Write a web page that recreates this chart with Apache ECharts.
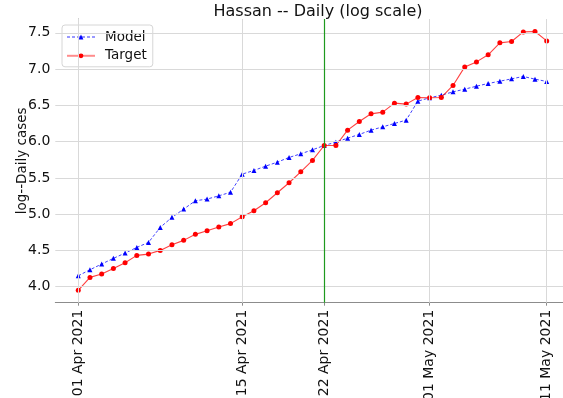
<!DOCTYPE html>
<html>
<head>
<meta charset="utf-8">
<script src="https://cdn.jsdelivr.net/npm/echarts@6/dist/echarts.min.js"></script>
<style>
  html, body { margin: 0; padding: 0; background: #fff; }
  #chart { width: 563px; height: 398px; }
</style>
</head>
<body>
<div id="chart"></div>
<script>
// Daily dates covered by the series
const dates = [
  '2021-04-01','2021-04-02','2021-04-03','2021-04-04','2021-04-05','2021-04-06','2021-04-07',
  '2021-04-08','2021-04-09','2021-04-10','2021-04-11','2021-04-12','2021-04-13','2021-04-14',
  '2021-04-15','2021-04-16','2021-04-17','2021-04-18','2021-04-19','2021-04-20','2021-04-21',
  '2021-04-22','2021-04-23','2021-04-24','2021-04-25','2021-04-26','2021-04-27','2021-04-28',
  '2021-04-29','2021-04-30','2021-05-01','2021-05-02','2021-05-03','2021-05-04','2021-05-05',
  '2021-05-06','2021-05-07','2021-05-08','2021-05-09','2021-05-10','2021-05-11'
];

// log of daily cases: model fit vs. observed target
const model = [
  4.151, 4.234, 4.313, 4.391, 4.464, 4.542, 4.611, 4.818, 4.956, 5.070,
  5.185, 5.208, 5.253, 5.302, 5.552, 5.603, 5.662, 5.717, 5.782, 5.832,
  5.887, 5.947, 5.993, 6.048, 6.099, 6.158, 6.204, 6.250, 6.296, 6.558,
  6.604, 6.640, 6.686, 6.723, 6.764, 6.801, 6.833, 6.865, 6.898, 6.861,
  6.829
];
const target = [
  3.950, 4.129, 4.175, 4.253, 4.331, 4.432, 4.450, 4.501, 4.579, 4.639,
  4.722, 4.771, 4.822, 4.870, 4.964, 5.047, 5.157, 5.295, 5.433, 5.584,
  5.741, 5.947, 5.947, 6.158, 6.278, 6.383, 6.406, 6.530, 6.517, 6.609,
  6.604, 6.609, 6.774, 7.030, 7.099, 7.196, 7.361, 7.380, 7.512, 7.518,
  7.388
];

// Axis ticks
const xTickDates = ['2021-04-01', '2021-04-15', '2021-04-22', '2021-05-01', '2021-05-11'];
const xTickLabels = ['01 Apr 2021', '15 Apr 2021', '22 Apr 2021', '01 May 2021', '11 May 2021'];
const yTicks = [4.0, 4.5, 5.0, 5.5, 6.0, 6.5, 7.0, 7.5];
const splitDate = '2021-04-22';

const DAY = 86400000;
const t0 = Date.parse(dates[0]);
const dayOf = d => Math.round((Date.parse(d) - t0) / DAY);

const xs = dates.map(dayOf);
const xTicks = xTickDates.map(dayOf);
const labelOf = {};
xTicks.forEach((v, i) => { labelOf[v] = xTickLabels[i]; });

const FONT = 'DejaVu Sans';
const gridColor = '#d9d9d9';
const spineColor = '#8c8c8c';

const chart = echarts.init(document.getElementById('chart'), null, { renderer: 'canvas' });

chart.setOption({
  animation: false,
  backgroundColor: '#fff',
  title: {
    text: 'Hassan -- Daily (log scale)',
    left: 313, top: -1, textAlign: 'center',
    textStyle: { fontFamily: FONT, fontSize: 16, fontWeight: 'normal', color: '#111' }
  },
  legend: {
    orient: 'vertical',
    left: 62, top: 25,
    padding: [5, 6, 4, 4],
    itemGap: 4.8,
    itemWidth: 28, itemHeight: 6,
    backgroundColor: '#fff',
    borderColor: '#d6d6d6', borderWidth: 1, borderRadius: 3,
    textStyle: { fontFamily: FONT, fontSize: 13.5, color: '#111', padding: [0, 0, 0, 5] },
    data: [
      { name: 'Model', lineStyle: { width: 1, opacity: 0.8 } },
      { name: 'Target', lineStyle: { width: 2, opacity: 0.45 } }
    ]
  },
  grid: { left: 55.3, right: -7.6, top: 19, bottom: 95.3, outerBoundsMode: 'none', containLabel: false },
  xAxis: {
    type: 'value',
    min: -1.96, max: 42.04,
    axisLine: { show: true, onZero: false, lineStyle: { color: spineColor, width: 1 } },
    axisTick: { show: true, customValues: xTicks, length: 3, lineStyle: { color: spineColor } },
    axisLabel: {
      customValues: xTicks, rotate: 90, margin: 7,
      fontFamily: FONT, fontSize: 14, color: '#111',
      formatter: v => labelOf[v] || ''
    },
    splitLine: { show: false }
  },
  yAxis: {
    type: 'value',
    min: 3.78, max: 7.69,
    axisLine: { show: true, lineStyle: { color: spineColor, width: 1 } },
    axisTick: { show: true, customValues: yTicks, length: 3, lineStyle: { color: spineColor } },
    axisLabel: {
      customValues: yTicks, margin: 5,
      fontFamily: FONT, fontSize: 14, color: '#111',
      formatter: v => v.toFixed(1)
    },
    splitLine: { show: false },
    name: 'log--Daily cases',
    nameLocation: 'middle', nameGap: 26, nameRotate: 90, nameMoveOverlap: false,
    nameTextStyle: { fontFamily: FONT, fontSize: 13.5, color: '#111' }
  },
  series: [
    {
      // grid lines at the tick positions
      type: 'line', silent: true, data: [], z: 1,
      markLine: {
        silent: true, symbol: 'none', animation: false,
        label: { show: false },
        lineStyle: { color: gridColor, type: 'solid', width: 1 },
        data: xTicks.map(v => ({ xAxis: v })).concat(yTicks.map(v => ({ yAxis: v })))
      }
    },
    {
      // forecast start marker
      type: 'line', silent: true, data: [], z: 2,
      markLine: {
        silent: true, symbol: 'none', animation: false,
        label: { show: false },
        lineStyle: { color: '#1f9a1f', type: 'solid', width: 1.2 },
        data: [{ xAxis: dayOf(splitDate) }]
      }
    },
    {
      name: 'Model',
      type: 'line', z: 3,
      data: xs.map((x, i) => [x, model[i]]),
      symbol: 'triangle', symbolSize: 5,
      itemStyle: { color: '#0000ff' },
      lineStyle: { color: '#0000ff', width: 1, type: [3, 2], opacity: 0.75 }
    },
    {
      name: 'Target',
      type: 'line', z: 4,
      data: xs.map((x, i) => [x, target[i]]),
      symbol: 'circle', symbolSize: 5,
      itemStyle: { color: '#ff0000' },
      lineStyle: { color: '#ff0000', width: 1.1, opacity: 0.75 }
    }
  ]
});
</script>
</body>
</html>
